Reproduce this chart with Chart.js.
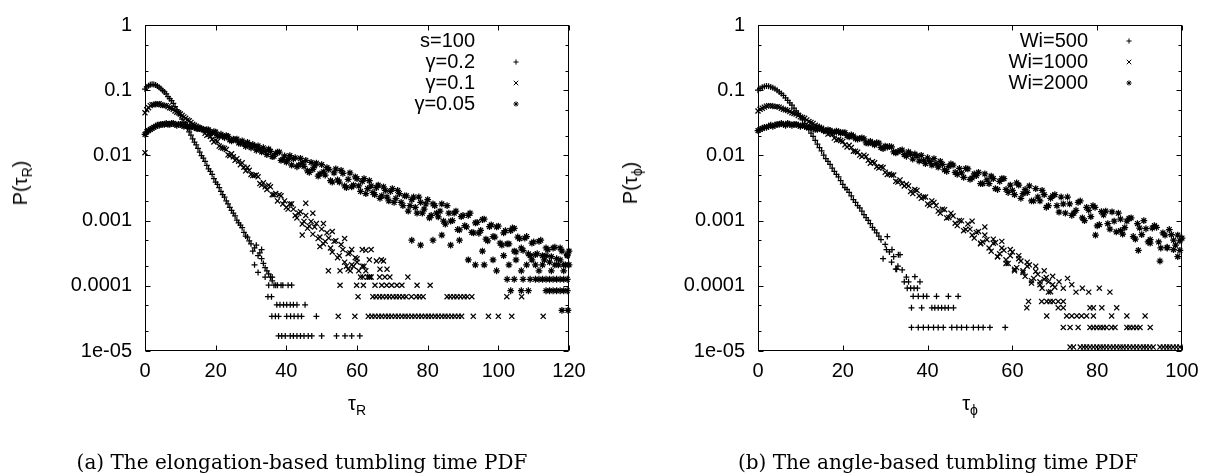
<!DOCTYPE html>
<html>
<head>
<meta charset="utf-8">
<script src="https://cdn.jsdelivr.net/npm/chart.js@4.4.1/dist/chart.umd.min.js"></script>
<style>
  body { margin: 0; background: #fff; width: 1207px; height: 473px; position: relative; overflow: hidden;
         font-family: "Liberation Sans", Arial, sans-serif; }
  canvas { position: absolute; top: 0; }
  #chartA { left: 0; }
  #chartB { left: 603px; }
  .lbl { position: absolute; font-size: 20px; line-height: 1; white-space: nowrap; color: #000; }
  .lbl sub { font-size: 14px; vertical-align: -5px; }
  .xlab { transform: translate(-50%, -50%); }
  .ylab { transform: translate(-50%, -50%) rotate(-90deg); }
  .cap { position: absolute; font-family: "DejaVu Serif", serif; font-size: 20px; white-space: nowrap;
         transform: translate(-50%, -50%); color: #000; }
</style>
</head>
<body>
<canvas id="chartA" width="603" height="473"></canvas>
<canvas id="chartB" width="604" height="473"></canvas>

<div class="lbl ylab" style="left:22px; top:183px">P(τ<sub>R</sub>)</div>
<div class="lbl xlab" style="left:357px; top:405px">τ<sub>R</sub></div>
<div class="lbl ylab" style="left:632px; top:183px">P(τ<sub>ϕ</sub>)</div>
<div class="lbl xlab" style="left:970px; top:405px">τ<sub>ϕ</sub></div>
<div class="cap" style="left:302px; top:462px">(a) The elongation-based tumbling time PDF</div>
<div class="cap" style="left:938px; top:462px">(b) The angle-based tumbling time PDF</div>

<script>
// ---- axes ----
var xTicksA = [0, 20, 40, 60, 80, 100, 120];
var xTicksB = [0, 20, 40, 60, 80, 100];
var yTickVals = [1, 0.1, 0.01, 0.001, 0.0001, 0.00001];
var yTickLabels = ['1', '0.1', '0.01', '0.001', '0.0001', '1e-05'];
var yMinorTicks = [0.5, 0.2, 0.05, 0.02, 0.005, 0.002, 0.0005, 0.0002, 0.00005, 0.00002];

// ---- panel (a): elongation-based, s=100 ----
var labelsA = ['γ=0.2', 'γ=0.1', 'γ=0.05'];
var tauA = [0,1,2,3,4,5,6,7,8,9,10,11,12,13,14,15,16,17,18,19,20,21,22,23,24,25,26,27,28,29,30,
  31,32,33,34,35,36,37,38,39,40,41,42,43,44,45,46,47,48,49,50,51,52,53,54,55,56,57,58,59,60,
  61,62,63,64,65,66,67,68,69,70,71,72,73,74,75,76,77,78,79,80,81,82,83,84,85,86,87,88,89,90,
  91,92,93,94,95,96,97,98,99,100,101,102,103,104,105,106,107,108,109,110,111,112,113,114,115,116,117,118,119,120];
var tauMidA = [0.5,1.5,2.5,3.5,4.5,5.5,6.5,7.5,8.5,9.5,10.5,11.5,12.5,13.5,14.5,15.5,16.5,17.5,18.5,19.5,
  20.5,21.5,22.5,23.5,24.5,25.5,26.5,27.5,28.5,29.5,30.5,31.5,32.5,33.5,34.5,35.5,36.5,37.5,38.5,39.5,
  40.5,41.5,42.5,43.5,44.5,45.5,46.5,47.5,48.5,49.5,50.5,51.5,52.5,53.5,54.5,55.5,56.5,57.5,58.5,59.5,
  60.5,61.5,62.5,63.5,64.5,65.5,66.5,67.5,68.5,69.5,70.5,71.5,72.5,73.5,74.5,75.5,76.5,77.5,78.5,79.5,
  80.5,81.5,82.5,83.5,84.5,85.5,86.5,87.5,88.5,89.5,90.5,91.5,92.5,93.5,94.5,95.5,96.5,97.5,98.5,99.5,
  100.5,101.5,102.5,103.5,104.5,105.5,106.5,107.5,108.5,109.5,110.5,111.5,112.5,113.5,114.5,115.5,116.5,117.5,118.5,119.5];

var gamma02 = [0.104, 0.117, 0.123, 0.12, 0.111, 0.099, 0.088, 0.074, 0.063, 0.05, 0.041, 0.032, 0.026, 0.0205,
  0.016, 0.0128, 0.0099, 0.0081, 0.0062, 0.0051, 0.0039, 0.0032, 0.0025, 0.002, 0.0016, 0.0013, 0.00102,
  0.00085, 0.00066, 0.00056, 0.00044, 0.00038, 0.00029, 0.00026, 0.00019, 0.000153, 0.000119];
var gamma02Mid = [0.112, 0.121, 0.122, 0.116, 0.105, 0.094, 0.08, 0.069, 0.056, 0.046, 0.036, 0.029, 0.023, 0.018,
  0.0145, 0.0112, 0.0091, 0.007, 0.0057, 0.0044, 0.0036, 0.0028, 0.0023, 0.0018, 0.00143, 0.00118, 0.00092,
  0.00078, 0.00058, 0.00049, 0.00034, 0.00042, 0.00032, 0.00022, 0.00017, 0.000136];
var gamma02Extra = [[31,0.00021],[32,0.00016],[33,0.00036],[34,0.000136],[35,0.000102],[36,0.000136],[37,0.000102],
  [36.5,0.000102],[37.5,0.000102],[38.5,0.000102],[39,0.000102],[40.5,0.000102],[41.5,0.000102],
  [34.8,0.000068],[35.8,0.000068],
  [37.3,0.000051],[38.2,0.000051],[39.2,0.000051],[40.1,0.000051],[41.1,0.000051],[42,0.000051],[43,0.000051],[45.3,0.000051],
  [35.9,0.000034],[36.9,0.000034],[37.8,0.000034],[40.1,0.000034],[41.2,0.000034],[42.2,0.000034],[43.3,0.000034],[44.3,0.000034],[48.5,0.000034],
  [37.8,0.000017],[38.7,0.000017],[39.7,0.000017],[41.1,0.000017],[42,0.000017],[43,0.000017],[44,0.000017],[45,0.000017],
  [46.2,0.000017],[47.2,0.000017],[50,0.000017],[54.2,0.000017],[56.6,0.000017],[58.5,0.000017],[60.8,0.000017]];

var gamma01 = [0.045, 0.054, 0.06, 0.061, 0.062, 0.059, 0.058, 0.054, 0.051, 0.046, 0.043, 0.039, 0.035, 0.032,
  0.029, 0.027, 0.0252, 0.0218, 0.021, 0.0177, 0.017, 0.0139, 0.013, 0.0123, 0.0099, 0.0095, 0.0089, 0.0072,
  0.0066, 0.0065, 0.0051, 0.0049, 0.0047, 0.0035, 0.0033, 0.0035, 0.0025, 0.0026, 0.0025, 0.0018, 0.0016,
  0.0018, 0.0015, 0.0011, 0.00137, 0.00097, 0.00076, 0.00097, 0.0008, 0.00053, 0.00074, 0.00048, 0.00054,
  0.00033, 0.00049, 0.00029, 0.00036, 0.0002, 0.00032, 0.0002, 0.00023, 0.000136, 0.0002, 0.000136, 0.000136];
var gamma01Mid = [0.05, 0.058, 0.06, 0.062, 0.06, 0.058, 0.056, 0.053, 0.048, 0.045, 0.041, 0.037, 0.034, 0.03,
  0.028, 0.0255, 0.025, 0.0203, 0.0195, 0.0161, 0.0164, 0.0133, 0.0128, 0.0102, 0.0106, 0.0084, 0.0081, 0.0077,
  0.0058, 0.0059, 0.0049, 0.005, 0.0037, 0.0038, 0.003, 0.0033, 0.0025, 0.002, 0.0024, 0.002, 0.0015, 0.0018,
  0.0012, 0.0013, 0.00089, 0.0012, 0.00082, 0.00062, 0.0009, 0.00056, 0.00044, 0.00065, 0.00038, 0.00048,
  0.00027, 0.00043, 0.00023, 0.00031, 0.00021, 0.00027, 0.00017, 0.0002, 0.00017, 0.000136];
var gamma01Extra = [[0,0.011],[44.5,0.0006],[45.5,0.00185],[47.5,0.0013],[49.5,0.0004],[50.5,0.0009],[51.9,0.00017],
  [53,0.00068],[55.2,0.00017],[56.5,0.00053],[57.5,0.00018],[58.1,0.00017],[58.5,0.00036],[60,0.00026],
  [61.5,0.00036],[62.5,0.00035],[63.5,0.00025],[64,0.00036],[65.5,0.00024],[66.5,0.00018],[66.9,0.00025],[67.5,0.00024],[68.5,0.00018],
  [61.7,0.000136],[63.6,0.000136],[66.4,0.000136],[67.9,0.000136],[69.3,0.000136],[74.4,0.000136],
  [55.2,0.000102],[59.9,0.000102],[61.8,0.000102],[65.1,0.000102],[67,0.000102],[68.4,0.000102],[69.8,0.000102],
  [71.3,0.000102],[72.7,0.000102],[77,0.000102],[80.7,0.000102],
  [60.3,0.000068],[64.5,0.000068],[65.4,0.000068],[66.4,0.000068],[67.3,0.000068],[68.3,0.000068],[69.2,0.000068],
  [70.2,0.000068],[71.1,0.000068],[72,0.000068],[73,0.000068],[73.9,0.000068],[75.4,0.000068],[76.8,0.000068],
  [77.7,0.000068],[78.7,0.000068],[85.5,0.000068],[86.4,0.000068],[87.4,0.000068],[88.3,0.000068],[89.3,0.000068],
  [90.3,0.000068],[91.2,0.000068],[92.5,0.000068],[102.4,0.000068],[106.6,0.000068],
  [54.7,0.000034],[59.4,0.000034],[63.2,0.000034],[64.2,0.000034],[65.1,0.000034],[66.1,0.000034],[67,0.000034],
  [68,0.000034],[68.9,0.000034],[69.8,0.000034],[70.8,0.000034],[71.7,0.000034],[72.7,0.000034],[73.6,0.000034],
  [74.5,0.000034],[75.5,0.000034],[76.4,0.000034],[77.4,0.000034],[78.3,0.000034],[79.3,0.000034],[80.2,0.000034],
  [81.1,0.000034],[82.1,0.000034],[83,0.000034],[84,0.000034],[84.9,0.000034],[85.8,0.000034],[86.8,0.000034],
  [87.7,0.000034],[88.7,0.000034],[89.6,0.000034],[92.9,0.000034],[97.2,0.000034],[100,0.000034],[103.8,0.000034],[112.7,0.000034]];

var gamma005 = [0.021, 0.024, 0.026, 0.028, 0.029, 0.03, 0.031, 0.03, 0.031, 0.029, 0.03, 0.028, 0.028, 0.027, 0.027, 0.026,
  0.0258, 0.024, 0.0246, 0.0222, 0.0228, 0.0199, 0.0198, 0.0201, 0.0173, 0.0177, 0.0178, 0.0153, 0.015, 0.0158,
  0.0131, 0.0137, 0.014, 0.0113, 0.0115, 0.0125, 0.0096, 0.0107, 0.0112, 0.0086, 0.0079, 0.0099, 0.0089, 0.0067,
  0.009, 0.0068, 0.0058, 0.0078, 0.0069, 0.0048, 0.0072, 0.005, 0.0061, 0.0039, 0.0062, 0.0039, 0.0053, 0.0032,
  0.0054, 0.0035, 0.0044, 0.0028, 0.0044, 0.0031, 0.0034, 0.0025, 0.0035, 0.0024, 0.0029, 0.002, 0.0031, 0.0022,
  0.0026, 0.0017, 0.0024, 0.0017, 0.0023, 0.0013, 0.0019, 0.0015, 0.0021, 0.0012, 0.0017, 0.00114, 0.0018,
  0.00088, 0.0013, 0.001, 0.0014, 0.00072, 0.0012, 0.0008, 0.0013, 0.00065, 0.00094, 0.00071, 0.00105, 0.00049,
  0.00086, 0.00056, 0.00082, 0.00042, 0.0007, 0.00044, 0.00077, 0.00033, 0.00053, 0.00035, 0.00057, 0.00029,
  0.00047, 0.00031, 0.0005, 0.00025, 0.00036, 0.00028, 0.00039, 0.00021, 0.00034, 0.00021, 0.00034];
var gamma005Mid = [0.023, 0.025, 0.027, 0.029, 0.03, 0.03, 0.03, 0.031, 0.03, 0.03, 0.029, 0.029, 0.027, 0.028, 0.026, 0.0262,
  0.0245, 0.0249, 0.0222, 0.0232, 0.0201, 0.0211, 0.0188, 0.0196, 0.0167, 0.0175, 0.0155, 0.0167, 0.0138, 0.0145,
  0.0147, 0.012, 0.0125, 0.0131, 0.0103, 0.0115, 0.0097, 0.0112, 0.0084, 0.0098, 0.0087, 0.0071, 0.0092, 0.0071,
  0.0077, 0.0084, 0.0055, 0.0061, 0.0076, 0.0052, 0.0056, 0.0065, 0.0041, 0.0054, 0.0042, 0.0059, 0.0034, 0.0043,
  0.0033, 0.0047, 0.0034, 0.004, 0.0026, 0.0041, 0.0027, 0.0032, 0.0022, 0.0033, 0.0023, 0.0028, 0.0019, 0.0029,
  0.0019, 0.0024, 0.0014, 0.0021, 0.0016, 0.0023, 0.0013, 0.0018, 0.0011, 0.0018, 0.0013, 0.0014, 0.00098, 0.0017,
  0.00098, 0.0013, 0.00073, 0.00115, 0.00084, 0.0012, 0.00066, 0.00092, 0.00064, 0.00104, 0.00052, 0.00081,
  0.00057, 0.0008, 0.00045, 0.00065, 0.00044, 0.0007, 0.00034, 0.00056, 0.00038, 0.00054, 0.00031, 0.00045,
  0.0003, 0.00048, 0.00029, 0.00038, 0.00023, 0.00038, 0.00026, 0.00038, 0.00021, 0.0003];
var gamma005Extra = [[75.5,0.0005],[78,0.00042],[81.5,0.0005],[84,0.0006],[86.5,0.00042],[89,0.0005],[91.5,0.00025],
  [93.5,0.00021],[95.5,0.00034],[96,0.00021],[98.5,0.00025],[99.5,0.00017],[101.5,0.00029],[103,0.00021],
  [104.5,0.00076],[105,0.00025],[106.5,0.00017],[108,0.00021],[109.5,0.00025],[110.5,0.00021],[111.5,0.00017],
  [112.5,0.00021],[113.5,0.00029],[115,0.00017],[116,0.00021],[117.5,0.00025],[118.5,0.00017],[119.5,0.00029],[120,0.00021],
  [102.5,0.000126],[104.5,0.000126],[107,0.000126],[109,0.000126],[110.5,0.000126],[111.5,0.000126],[112.5,0.000126],
  [113.5,0.000126],[114.5,0.000126],[115.5,0.000126],[116.5,0.000126],[117.5,0.000126],[118.5,0.000126],[119.5,0.000126],
  [103.5,0.000084],[106.5,0.000084],[108.5,0.000084],[113.5,0.000084],[114.5,0.000084],[115.5,0.000084],
  [116.5,0.000084],[117.5,0.000084],[118.5,0.000084],[119.5,0.000084],
  [118,0.000042],[119.7,0.000042]];

// ---- panel (b): angle-based ----
var labelsB = ['Wi=500', 'Wi=1000', 'Wi=2000'];
var tauB = [0,1,2,3,4,5,6,7,8,9,10,11,12,13,14,15,16,17,18,19,20,21,22,23,24,25,26,27,28,29,30,
  31,32,33,34,35,36,37,38,39,40,41,42,43,44,45,46,47,48,49,50,51,52,53,54,55,56,57,58,59,60,
  61,62,63,64,65,66,67,68,69,70,71,72,73,74,75,76,77,78,79,80,81,82,83,84,85,86,87,88,89,90,
  91,92,93,94,95,96,97,98,99,100];
var tauMidB = tauMidA;

var wi500 = [0.1, 0.111, 0.116, 0.112, 0.105, 0.094, 0.083, 0.07, 0.059, 0.048, 0.04, 0.031, 0.025, 0.0195,
  0.0149, 0.0117, 0.0089, 0.0073, 0.0057, 0.0047, 0.0036, 0.003, 0.0024, 0.0019, 0.00157, 0.00123, 0.00101,
  0.00079, 0.00065, 0.00051, 0.00043, 0.00033, 0.00028, 0.0002, 0.000175, 0.000136];
var wi500Mid = [0.106, 0.114, 0.115, 0.109, 0.1, 0.089, 0.076, 0.064, 0.053, 0.044, 0.035, 0.028, 0.022, 0.017,
  0.0132, 0.0101, 0.0081, 0.0064, 0.0051, 0.0041, 0.0032, 0.0027, 0.0021, 0.0017, 0.0014, 0.00111, 0.0009,
  0.00072, 0.00058, 0.00026, 0.00057, 0.00023, 0.00018, 0.0003, 0.000115];
var wi500Extra = [[30.3,0.00036],[31.6,0.00036],[33.1,0.0003],[32.7,0.00018],
  [35.5,0.000115],[37,0.000138],[38.2,0.000115],
  [35.2,0.000092],[36,0.000092],[36.8,0.000092],[37.6,0.000092],
  [36.6,0.000069],[37.8,0.000069],[39,0.000069],[39.8,0.000069],[42.1,0.000069],[44.9,0.000069],[47.2,0.000069],
  [36.2,0.000046],[38.6,0.000046],[41,0.000046],[41.7,0.000046],[42.5,0.000046],[43.3,0.000046],[44.1,0.000046],[44.9,0.000046],[46.1,0.000046],
  [36.2,0.000023],[37.8,0.000023],[39,0.000023],[40.2,0.000023],[41.4,0.000023],[42.5,0.000023],[43.7,0.000023],
  [45.7,0.000023],[46.9,0.000023],[48,0.000023],[49.2,0.000023],[50.8,0.000023],[52,0.000023],[53.1,0.000023],
  [54.7,0.000023],[58.3,0.000023]];

var wi1000 = [0.048, 0.053, 0.057, 0.058, 0.056, 0.055, 0.051, 0.049, 0.045, 0.043, 0.039, 0.037, 0.033, 0.031,
  0.028, 0.026, 0.0232, 0.0218, 0.0184, 0.0175, 0.0164, 0.0135, 0.0132, 0.0116, 0.0101, 0.0101, 0.0084, 0.008,
  0.0067, 0.0067, 0.0055, 0.0052, 0.005, 0.0039, 0.0037, 0.0036, 0.0028, 0.003, 0.0024, 0.0023, 0.0018, 0.002,
  0.0017, 0.0013, 0.00147, 0.00112, 0.00118, 0.00084, 0.00099, 0.00073, 0.00074, 0.00054, 0.00068, 0.00047,
  0.00051, 0.00034, 0.00046, 0.00031, 0.00035, 0.00022, 0.00033, 0.00019, 0.00024, 0.00014, 0.00021, 0.00013,
  0.00015, 0.000092, 0.000134, 0.000081, 0.000095];
var wi1000Mid = [0.051, 0.055, 0.058, 0.057, 0.056, 0.053, 0.05, 0.047, 0.044, 0.041, 0.038, 0.035, 0.032, 0.029,
  0.027, 0.0245, 0.0212, 0.021, 0.0172, 0.0169, 0.0145, 0.0143, 0.0116, 0.0112, 0.0096, 0.0096, 0.0076, 0.0077,
  0.0064, 0.0065, 0.0051, 0.005, 0.004, 0.0042, 0.0034, 0.0034, 0.0026, 0.0029, 0.0022, 0.0023, 0.0017, 0.0019,
  0.0014, 0.0015, 0.0011, 0.0013, 0.00091, 0.001, 0.0007, 0.00089, 0.0006, 0.00066, 0.00044, 0.0006, 0.00038,
  0.00045, 0.00028, 0.00038, 0.00025, 0.00029, 0.00018, 0.00026, 0.00017, 0.0002, 0.00012, 0.000166, 0.000115,
  0.000126, 0.00008, 0.000104];
var wi1000Extra = [[50.5,0.00098],[52.5,0.00045],[53.5,0.0008],[55.5,0.00052],[56.5,0.00028],[57.5,0.00048],
  [58.5,0.00022],[59.5,0.00036],[60.5,0.00017],[61.5,0.00029],[62.5,0.00016],[63.5,0.00023],[64.5,0.00011],
  [65.5,0.0002],[66.5,0.000104],[67.5,0.00017],[68.5,0.000115],[69.5,0.00014],[71,0.000115],[72,0.000092],
  [73,0.00013],[74,0.000104],[75,0.00008],[76.5,0.000092],[78,0.00008],[80.5,0.000092],[83,0.00008],
  [63.8,0.0000575],[66.9,0.0000575],[68.1,0.0000575],[68.9,0.0000575],[69.6,0.0000575],[70.8,0.0000575],[72,0.0000575],
  [63.4,0.000046],[70.8,0.000046],[72,0.000046],[78.3,0.000046],[79.1,0.000046],[81.1,0.000046],[84.6,0.000046],
  [68.1,0.0000345],[72.8,0.0000345],[74,0.0000345],[75.2,0.0000345],[76.3,0.0000345],[77.5,0.0000345],[79.1,0.0000345],
  [83.4,0.0000345],[87,0.0000345],[91.3,0.0000345],
  [72,0.000023],[73.6,0.000023],[75.5,0.000023],[78.3,0.000023],[79.1,0.000023],[79.9,0.000023],[80.7,0.000023],
  [81.4,0.000023],[82.2,0.000023],[83.4,0.000023],[84.2,0.000023],[87,0.000023],[87.7,0.000023],[88.5,0.000023],
  [89.3,0.000023],[90.1,0.000023],[92.5,0.000023],
  [73.6,0.0000115],[74.4,0.0000115],[76,0.0000115],[76.8,0.0000115],[77.5,0.0000115],[78.3,0.0000115],[79.1,0.0000115],
  [79.9,0.0000115],[80.7,0.0000115],[81.4,0.0000115],[82.2,0.0000115],[83,0.0000115],[83.8,0.0000115],[84.6,0.0000115],
  [85.4,0.0000115],[86.1,0.0000115],[86.9,0.0000115],[87.7,0.0000115],[88.5,0.0000115],[89.3,0.0000115],[90.1,0.0000115],
  [90.9,0.0000115],[91.6,0.0000115],[92.4,0.0000115],[93.2,0.0000115],[94.8,0.0000115],[95.6,0.0000115],[96.4,0.0000115],
  [97.1,0.0000115],[97.9,0.0000115],[98.7,0.0000115],[99.5,0.0000115]];

var wi2000 = [0.024, 0.026, 0.027, 0.029, 0.029, 0.03, 0.03, 0.031, 0.029, 0.03, 0.028, 0.028, 0.027, 0.026, 0.025,
  0.025, 0.0238, 0.0242, 0.0226, 0.0232, 0.0224, 0.0201, 0.0207, 0.018, 0.0183, 0.018, 0.0154, 0.0153, 0.0157,
  0.0132, 0.0139, 0.0137, 0.0113, 0.0114, 0.0121, 0.0097, 0.0105, 0.0105, 0.0082, 0.0083, 0.0092, 0.0071, 0.0075,
  0.0081, 0.006, 0.0068, 0.0071, 0.0051, 0.0054, 0.0063, 0.0043, 0.0052, 0.0055, 0.0037, 0.0042, 0.0048, 0.0031,
  0.004, 0.0044, 0.0027, 0.0029, 0.0038, 0.0022, 0.003, 0.0034, 0.002, 0.0023, 0.0029, 0.0016, 0.0022, 0.0025,
  0.00135, 0.0018, 0.0023, 0.0012, 0.00144, 0.002, 0.001, 0.00144, 0.0017, 0.00083, 0.00137, 0.0014, 0.00074,
  0.00098, 0.0013, 0.00062, 0.00098, 0.0011, 0.00052, 0.00077, 0.001, 0.00047, 0.00077, 0.00079, 0.00038, 0.0006,
  0.00073, 0.00036, 0.0006, 0.00054];
var wi2000Mid = [0.025, 0.027, 0.028, 0.028, 0.03, 0.031, 0.029, 0.03, 0.03, 0.029, 0.029, 0.027, 0.027, 0.025,
  0.026, 0.024, 0.0246, 0.0228, 0.0236, 0.0219, 0.0223, 0.0192, 0.0198, 0.0178, 0.0185, 0.0156, 0.0164, 0.0145,
  0.0154, 0.0127, 0.0134, 0.0135, 0.0109, 0.0119, 0.0103, 0.0113, 0.0088, 0.0098, 0.01, 0.0075, 0.0081, 0.0089,
  0.0066, 0.0073, 0.0057, 0.0074, 0.0055, 0.0063, 0.0046, 0.0062, 0.0045, 0.0049, 0.0037, 0.0052, 0.0037, 0.0044,
  0.003, 0.0044, 0.003, 0.0035, 0.0025, 0.0035, 0.0026, 0.0027, 0.002, 0.0031, 0.002, 0.0025, 0.0017, 0.0024,
  0.0017, 0.0023, 0.0013, 0.0018, 0.0013, 0.0019, 0.0011, 0.0016, 0.00115, 0.0016, 0.00087, 0.00122, 0.0009,
  0.00136, 0.00067, 0.00105, 0.00078, 0.00108, 0.00057, 0.0009, 0.00061, 0.00075, 0.00051, 0.00084, 0.00047,
  0.00065, 0.00039, 0.00061, 0.00042, 0.00049];
var wi2000Extra = [[79.6,0.0006],[85.5,0.0007],[89.7,0.00035],[92.5,0.00045],[94.8,0.00024],[96.5,0.00038],
  [98,0.0005],[99,0.00028],[99.5,0.00035]];

// builds {x, y} points from the grid values, the half-step values and the loose points
function points(xs, ys, mxs, mys, extra) {
  var out = [];
  for (var i = 0; i < ys.length; i++) out.push({ x: xs[i], y: ys[i] });
  for (var j = 0; j < mys.length; j++) out.push({ x: mxs[j], y: mys[j] });
  extra.forEach(function (p) { out.push({ x: p[0], y: p[1] }); });
  return out;
}

// frame, inward ticks on all four sides, and the gnuplot-style key
var framePlugin = {
  id: 'frame',
  afterDatasetsDraw: function (chart, args, opts) {
    var ctx = chart.ctx, a = chart.chartArea, sx = chart.scales.x, sy = chart.scales.y;
    var L = Math.round(a.left) + 0.5, R = Math.round(a.right) - 0.5;
    var T = Math.round(a.top) + 0.5, B = Math.round(a.bottom) - 0.5;
    ctx.save();
    ctx.strokeStyle = '#000';
    ctx.lineWidth = 1;
    ctx.strokeRect(L, T, R - L, B - T);
    ctx.beginPath();
    sx.ticks.forEach(function (t) {
      var px = Math.round(sx.getPixelForValue(t.value)) + 0.5;
      ctx.moveTo(px, B); ctx.lineTo(px, B - 5);
      ctx.moveTo(px, T); ctx.lineTo(px, T + 5);
    });
    sy.ticks.forEach(function (t) {
      var py = Math.round(sy.getPixelForValue(t.value)) + 0.5;
      ctx.moveTo(L, py); ctx.lineTo(L + 5, py);
      ctx.moveTo(R, py); ctx.lineTo(R - 5, py);
    });
    yMinorTicks.forEach(function (v) {
      var py = Math.round(sy.getPixelForValue(v)) + 0.5;
      ctx.moveTo(L, py); ctx.lineTo(L + 3, py);
      ctx.moveTo(R, py); ctx.lineTo(R - 3, py);
    });
    ctx.stroke();

    // key
    ctx.font = '20px "Liberation Sans", Arial, sans-serif';
    ctx.fillStyle = '#000';
    ctx.textAlign = 'right';
    ctx.textBaseline = 'middle';
    var tx = a.right - 94, mx = a.right - 53, y0 = a.top + 16, row = 0;
    if (opts.header) { ctx.fillText(opts.header, tx, y0); row++; }
    chart.data.datasets.forEach(function (ds) {
      var y = y0 + row * 21;
      ctx.fillText(ds.label, tx, y);
      Chart.helpers.drawPoint(ctx, { pointStyle: ds.pointStyle, radius: ds.pointStyle === 'crossRot' ? 3.2 : 2.6, borderWidth: 1, rotation: 0 }, mx, y);
      row++;
    });
    ctx.restore();
  }
};

Chart.defaults.font.family = '"Liberation Sans", Arial, sans-serif';
Chart.defaults.font.size = 20;
Chart.defaults.color = '#000';

function makeChart(id, W, plotRight, yWidth, xTicks, xMax, header, datasets) {
  return new Chart(document.getElementById(id).getContext('2d'), {
    type: 'scatter',
    data: { datasets: datasets },
    plugins: [framePlugin],
    options: {
      responsive: false,
      animation: false,
      events: [],
      layout: { padding: { left: 0, top: 16, right: W - plotRight, bottom: 0 } },
      plugins: { legend: { display: false }, tooltip: { enabled: false }, frame: { header: header } },
      scales: {
        x: {
          type: 'linear', min: 0, max: xMax,
          grid: { display: false, drawTicks: false }, border: { display: false },
          afterBuildTicks: function (s) { s.ticks = xTicks.map(function (v) { return { value: v }; }); },
          afterFit: function (s) { s.height = 473 - 351; },
          ticks: { padding: 8, maxRotation: 0, autoSkip: false, callback: function (v) { return String(v); } }
        },
        y: {
          type: 'logarithmic', min: 0.00001, max: 1,
          grid: { display: false, drawTicks: false }, border: { display: false },
          afterBuildTicks: function (s) { s.ticks = yTickVals.map(function (v) { return { value: v }; }); },
          afterFit: function (s) { s.width = yWidth; },
          ticks: { padding: 13, autoSkip: false, callback: function (v, i) { return yTickLabels[i]; } }
        }
      }
    }
  });
}

function series(label, style, radius, data) {
  return { label: label, data: data, pointStyle: style, pointRadius: radius, borderColor: '#000',
           backgroundColor: '#000', borderWidth: 1.25, showLine: false, clip: false };
}

makeChart('chartA', 603, 569, 145, xTicksA, 120, 's=100', [
  series(labelsA[0], 'cross', 3, points(tauA, gamma02, tauMidA, gamma02Mid, gamma02Extra)),
  series(labelsA[1], 'crossRot', 3.6, points(tauA, gamma01, tauMidA, gamma01Mid, gamma01Extra)),
  series(labelsA[2], 'star', 3.4, points(tauA, gamma005, tauMidA, gamma005Mid, gamma005Extra))
]);

makeChart('chartB', 604, 579, 155, xTicksB, 100, null, [
  series(labelsB[0], 'cross', 3, points(tauB, wi500, tauMidB, wi500Mid, wi500Extra)),
  series(labelsB[1], 'crossRot', 3.6, points(tauB, wi1000, tauMidB, wi1000Mid, wi1000Extra)),
  series(labelsB[2], 'star', 3.4, points(tauB, wi2000, tauMidB, wi2000Mid, wi2000Extra))
]);
</script>
</body>
</html>
